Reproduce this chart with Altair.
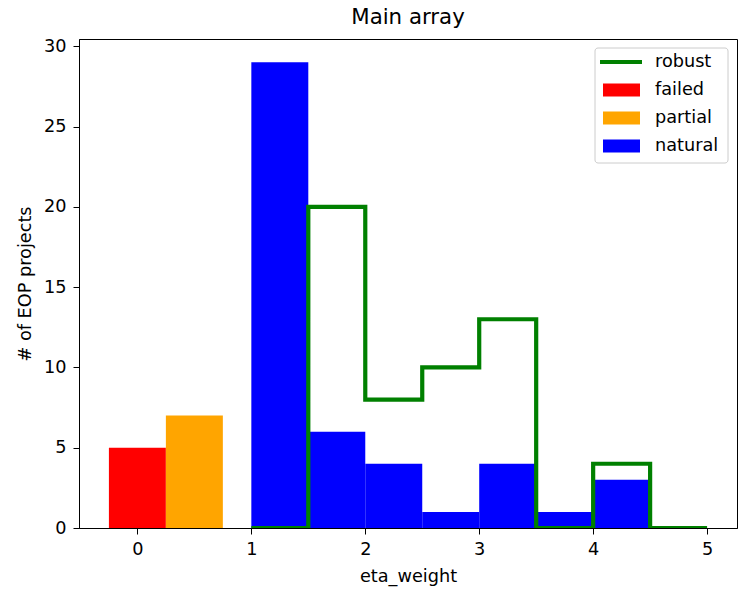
import altair as alt
import pandas as pd

# Histogram counts per eta_weight bin
fail_edges = [-0.25, 0.25]
fail_counts = [5]
partial_edges = [0.25, 0.75]
partial_counts = [7]
natural_edges = [1.0, 1.5, 2.0, 2.5, 3.0, 3.5, 4.0, 4.5, 5.0]
natural_counts = [29, 6, 4, 1, 4, 1, 3, 0]
robust_edges = [1.0, 1.5, 2.0, 2.5, 3.0, 3.5, 4.0, 4.5, 5.0]
robust_counts = [0, 20, 8, 10, 13, 0, 4, 0]

legend_labels = ["robust", "failed", "partial", "natural"]
series_colors = {"robust": "#008000", "failed": "#ff0000",
                 "partial": "#ffa500", "natural": "#0000ff"}
x_ticks = [0, 1, 2, 3, 4, 5]
y_ticks = [0, 5, 10, 15, 20, 25, 30]

FONT = "DejaVu Sans"
FS = 17.7


def bins(edges, counts, name):
    return pd.DataFrame({
        "x0": edges[:-1],
        "x1": edges[1:],
        "count": counts,
        "series": name,
    })


bars = pd.concat([
    bins(fail_edges, fail_counts, "failed"),
    bins(partial_edges, partial_counts, "partial"),
    bins(natural_edges, natural_counts, "natural"),
], ignore_index=True)

# step outline: one point per bin start, plus the closing edge
robust = pd.DataFrame({
    "x": robust_edges,
    "count": robust_counts + [robust_counts[-1]],
})

x_scale = alt.Scale(domain=[-0.5125, 5.2625], nice=False, zero=False)
y_scale = alt.Scale(domain=[0, 30.45], nice=False, zero=True)
color_scale = alt.Scale(domain=legend_labels,
                        range=[series_colors[k] for k in legend_labels])

bar_layer = alt.Chart(bars).mark_rect().encode(
    x=alt.X("x0:Q", scale=x_scale,
            axis=alt.Axis(values=x_ticks, format="d", title="eta_weight")),
    x2="x1:Q",
    y=alt.Y("count:Q", scale=y_scale,
            axis=alt.Axis(values=y_ticks, format="d", title="# of EOP projects")),
    y2=alt.datum(0),
    color=alt.Color("series:N", scale=color_scale, legend=None),
)

line_layer = alt.Chart(robust).mark_line(
    interpolate="step-after", color="#008000", strokeWidth=4.2, clip=True
).encode(
    x=alt.X("x:Q", scale=x_scale),
    y=alt.Y("count:Q", scale=y_scale, axis=None),
)

# legend box in the upper-right corner of the plot (plot-area pixels)
legend_df = pd.DataFrame({"label": legend_labels})
leg_y = alt.Scale(type="point", domain=legend_labels, range=[23, 107], padding=0)

frame = alt.Chart(legend_df).mark_rect(
    fill="white", fillOpacity=0.8, stroke="#cccccc", strokeWidth=1, cornerRadius=3
).encode(
    x=alt.value(516), x2=alt.value(649), y=alt.value(9), y2=alt.value(124)
).transform_filter(alt.datum.label == "robust")

leg_line = alt.Chart(legend_df).mark_rule(strokeWidth=4.2).encode(
    x=alt.value(521), x2=alt.value(563),
    y=alt.Y("label:N", scale=leg_y, axis=None),
    color=alt.Color("label:N", scale=color_scale, legend=None),
).transform_filter(alt.datum.label == "robust")

leg_box = alt.Chart(legend_df).mark_rect(yOffset=-6.5, y2Offset=6.5).encode(
    x=alt.value(524), x2=alt.value(561),
    y=alt.Y("label:N", scale=leg_y, axis=None),
    y2=alt.Y2("label:N"),
    color=alt.Color("label:N", scale=color_scale, legend=None),
).transform_filter(alt.datum.label != "robust")

leg_text = alt.Chart(legend_df).mark_text(
    align="left", baseline="middle", font=FONT, fontSize=FS, color="black"
).encode(
    x=alt.value(576),
    y=alt.Y("label:N", scale=leg_y, axis=None),
    text="label:N",
)

chart = alt.layer(
    bar_layer, line_layer, frame, leg_line, leg_box, leg_text
).resolve_scale(
    y="independent", color="independent"
).properties(
    width=658,
    height=489,
    title=alt.Title("Main array", font=FONT, fontSize=21.3, fontWeight="normal",
                    color="black", offset=9),
    autosize=alt.AutoSizeParams(type="none"),
    padding={"left": 79, "top": 39, "right": 4, "bottom": 64},
).configure_view(
    stroke="black", strokeWidth=1
).configure_axis(
    grid=False,
    domainColor="black",
    tickColor="black",
    tickSize=6,
    labelFont=FONT,
    labelFontSize=FS,
    labelColor="black",
    titleFont=FONT,
    titleFontSize=FS,
    titleFontWeight="normal",
    titleColor="black",
).configure_axisX(
    labelPadding=6, titlePadding=10
).configure_axisY(
    labelPadding=7, titlePadding=9
)

chart.save("out.html", embed_options={"renderer": "svg", "actions": False})
